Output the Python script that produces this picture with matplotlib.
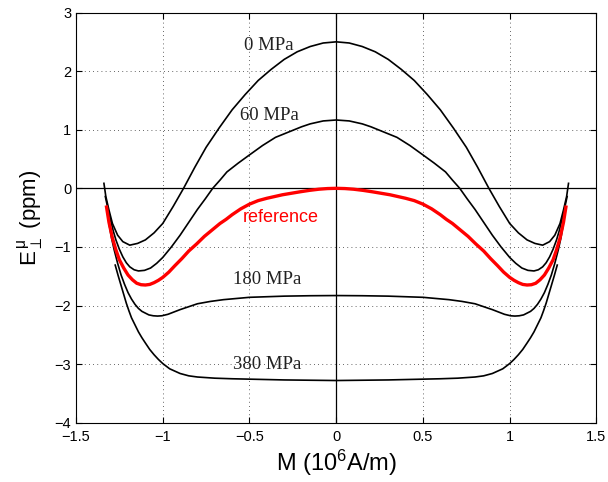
import matplotlib
matplotlib.use("Agg")
import matplotlib.pyplot as plt

plt.rcParams['font.family'] = ['Liberation Sans', 'DejaVu Sans']
plt.rcParams['mathtext.fontset'] = 'custom'
plt.rcParams['mathtext.rm'] = 'Liberation Sans'
plt.rcParams['mathtext.it'] = 'Liberation Sans:italic'
plt.rcParams['mathtext.sf'] = 'Liberation Sans'

# ---- data ----
m_0 = [-1.339, -1.328, -1.31, -1.29, -1.26, -1.23, -1.19, -1.145, -1.10, -1.05, -1.00, -0.94, -0.88,
       -0.815, -0.75, -0.675, -0.60, -0.525, -0.45, -0.375, -0.30, -0.225, -0.15, -0.075, 0.00,
       0.075, 0.15, 0.225, 0.30, 0.375, 0.45, 0.525, 0.60, 0.675, 0.75, 0.815,
       0.88, 0.94, 1.00, 1.05, 1.10, 1.145, 1.19, 1.23, 1.26, 1.29, 1.31, 1.328, 1.339]
e_0 = [0.085, -0.14, -0.37, -0.60, -0.80, -0.91, -0.97, -0.94, -0.88, -0.76, -0.60, -0.31, 0.00,
       0.36, 0.70, 1.03, 1.34, 1.60, 1.84, 2.03, 2.20, 2.33, 2.42, 2.48, 2.50,
       2.48, 2.42, 2.33, 2.20, 2.03, 1.84, 1.60, 1.34, 1.03, 0.70, 0.36,
       0.00, -0.31, -0.60, -0.76, -0.88, -0.94, -0.97, -0.91, -0.80, -0.60, -0.37, -0.14, 0.085]

m_60 = [-1.331, -1.315, -1.30, -1.285, -1.27, -1.25, -1.23, -1.21, -1.19, -1.165, -1.14, -1.105, -1.07,
        -1.035, -1.00, -0.95, -0.90, -0.85, -0.80, -0.755, -0.712, -0.67, -0.63, -0.565, -0.50, -0.425,
        -0.35, -0.30, -0.25, -0.20, -0.15, -0.075, 0.00,
        0.075, 0.15, 0.20, 0.25, 0.30, 0.35, 0.425, 0.50, 0.565, 0.63, 0.67, 0.712, 0.755, 0.80, 0.85,
        0.90, 0.95, 1.00, 1.035, 1.07, 1.105, 1.14, 1.165, 1.19, 1.21, 1.23, 1.25, 1.27, 1.285, 1.30, 1.315, 1.331]
e_60 = [-0.14, -0.36, -0.55, -0.73, -0.88, -1.04, -1.17, -1.27, -1.34, -1.39, -1.41, -1.40, -1.36,
        -1.28, -1.18, -1.00, -0.80, -0.58, -0.36, -0.18, 0.00, 0.14, 0.28, 0.43, 0.57, 0.73,
        0.87, 0.93, 0.99, 1.05, 1.10, 1.15, 1.166,
        1.15, 1.10, 1.05, 0.99, 0.93, 0.87, 0.73, 0.57, 0.43, 0.28, 0.14, 0.00, -0.18, -0.36, -0.58,
        -0.80, -1.00, -1.18, -1.28, -1.36, -1.40, -1.41, -1.39, -1.34, -1.27, -1.17, -1.04, -0.88, -0.73, -0.55, -0.36, -0.14]

m_ref = [-1.324, -1.31, -1.29, -1.27, -1.25, -1.225, -1.20, -1.175, -1.15, -1.125, -1.10, -1.075, -1.05,
         -1.025, -1.00, -0.965, -0.93, -0.89, -0.85, -0.805, -0.76, -0.715, -0.67, -0.635, -0.60, -0.55,
         -0.50, -0.45, -0.40, -0.355, -0.31, -0.26, -0.21, -0.155, -0.10, -0.05, 0.00,
         0.05, 0.10, 0.155, 0.21, 0.26, 0.31, 0.355, 0.40, 0.45, 0.50, 0.55, 0.60, 0.635, 0.67, 0.715,
         0.76, 0.805, 0.85, 0.89, 0.93, 0.965, 1.00, 1.025, 1.05, 1.075, 1.10, 1.125, 1.15, 1.175,
         1.20, 1.225, 1.25, 1.27, 1.29, 1.31, 1.324]
e_ref = [-0.32, -0.58, -0.85, -1.05, -1.22, -1.36, -1.48, -1.56, -1.62, -1.645, -1.65, -1.64, -1.61,
         -1.57, -1.52, -1.43, -1.32, -1.20, -1.07, -0.95, -0.82, -0.71, -0.60, -0.53, -0.45, -0.35,
         -0.27, -0.21, -0.17, -0.14, -0.11, -0.085, -0.06, -0.035, -0.015, -0.004, 0.00,
         -0.004, -0.015, -0.035, -0.06, -0.085, -0.11, -0.14, -0.17, -0.21, -0.27, -0.35, -0.45, -0.53, -0.60, -0.71,
         -0.82, -0.95, -1.07, -1.20, -1.32, -1.43, -1.52, -1.57, -1.61, -1.64, -1.65, -1.645, -1.62, -1.56,
         -1.48, -1.36, -1.22, -1.05, -0.85, -0.58, -0.32]

m_180 = [-1.308, -1.295, -1.28, -1.26, -1.24, -1.22, -1.20, -1.18, -1.16, -1.14, -1.12, -1.08, -1.055,
         -1.03, -1.005, -0.97, -0.90, -0.85, -0.80, -0.725, -0.65, -0.50, -0.40, -0.30, -0.15, 0.00,
         0.15, 0.30, 0.40, 0.50, 0.65, 0.725, 0.80, 0.85, 0.90, 0.97, 1.005, 1.03, 1.055, 1.08,
         1.12, 1.14, 1.16, 1.18, 1.20, 1.22, 1.24, 1.26, 1.28, 1.295, 1.308]
e_180 = [-0.63, -0.85, -1.05, -1.28, -1.48, -1.64, -1.78, -1.89, -1.98, -2.05, -2.10, -2.16, -2.175,
         -2.18, -2.175, -2.15, -2.07, -2.02, -1.97, -1.93, -1.90, -1.86, -1.85, -1.84, -1.833, -1.83,
         -1.833, -1.84, -1.85, -1.86, -1.90, -1.93, -1.97, -2.02, -2.07, -2.15, -2.175, -2.18, -2.175, -2.16,
         -2.10, -2.05, -1.98, -1.89, -1.78, -1.64, -1.48, -1.28, -1.05, -0.85, -0.63]

m_380 = [-1.274, -1.257, -1.24, -1.225, -1.21, -1.195, -1.18, -1.16, -1.14, -1.12, -1.10, -1.075, -1.05,
         -1.025, -1.00, -0.96, -0.93, -0.90, -0.85, -0.80, -0.70, -0.60, -0.30, 0.00,
         0.30, 0.60, 0.70, 0.80, 0.85, 0.90, 0.93, 0.96, 1.00, 1.025, 1.05, 1.075, 1.10, 1.12,
         1.14, 1.16, 1.18, 1.195, 1.21, 1.225, 1.24, 1.257, 1.274]
e_380 = [-1.31, -1.49, -1.66, -1.81, -1.96, -2.09, -2.21, -2.33, -2.45, -2.55, -2.64, -2.75, -2.84,
         -2.92, -2.99, -3.08, -3.12, -3.16, -3.20, -3.22, -3.24, -3.25, -3.27, -3.28,
         -3.27, -3.25, -3.24, -3.22, -3.20, -3.16, -3.12, -3.08, -2.99, -2.92, -2.84, -2.75, -2.64, -2.55,
         -2.45, -2.33, -2.21, -2.09, -1.96, -1.81, -1.66, -1.49, -1.31]

labels = ["0 MPa", "60 MPa", "reference", "180 MPa", "380 MPa"]
label_pos = [(-0.39, 2.43), (-0.385, 1.24), (-0.32, -0.50), (-0.40, -1.55), (-0.40, -3.0)]

x_ticks = [-1.5, -1, -0.5, 0, 0.5, 1, 1.5]
x_tick_labels = ["\u22121.5", "\u22121", "\u22120.5", "0", "0.5", "1", "1.5"]
y_ticks = [-4, -3, -2, -1, 0, 1, 2, 3]
y_tick_labels = ["\u22124", "\u22123", "\u22122", "\u22121", "0", "1", "2", "3"]

fig = plt.figure(figsize=(6.08, 4.82), dpi=100)
ax = fig.add_axes([0.125, 0.123, 0.856, 0.851])

ax.set_xlim(-1.5, 1.5)
ax.set_ylim(-4, 3)
ax.set_xticks(x_ticks)
ax.set_xticklabels(x_tick_labels)
ax.set_yticks(y_ticks)
ax.set_yticklabels(y_tick_labels)
ax.tick_params(direction='in', length=4, width=0.8, top=True, right=True, labelsize=10.5)
ax.tick_params(axis='x', pad=5)
ax.grid(True, color='black', linestyle=(0, (1, 4)), linewidth=0.6, alpha=0.8)
for s in ax.spines.values():
    s.set_linewidth(0.8)

ax.axhline(0, color='black', linewidth=0.9, zorder=2)
ax.axvline(0, color='black', linewidth=0.9, zorder=2)

ax.plot(m_0, e_0, color='black', linewidth=1.2, zorder=3)
ax.plot(m_60, e_60, color='black', linewidth=1.2, zorder=3)
ax.plot(m_180, e_180, color='black', linewidth=1.2, zorder=3)
ax.plot(m_380, e_380, color='black', linewidth=1.2, zorder=3)
ax.plot(m_ref, e_ref, color='red', linewidth=2.4, zorder=4)

for lab, (lx, ly) in zip(labels, label_pos):
    if lab == "reference":
        ax.text(lx, ly, lab, color='red', fontsize=13, ha='center', va='center',
                family=['Liberation Sans', 'DejaVu Sans'])
    else:
        ax.text(lx, ly, lab, color='#222222', fontsize=13.5, ha='center', va='center',
                family=['Liberation Serif', 'DejaVu Serif'])

ax.set_xlabel(r"M (10$^{6}$A/m)", fontsize=17, labelpad=3)
ax.set_ylabel(r"E$_{\perp}^{\,\mathrm{\mu}}$ (ppm)", fontsize=16, labelpad=6)

fig.savefig("out.png", dpi=100)
